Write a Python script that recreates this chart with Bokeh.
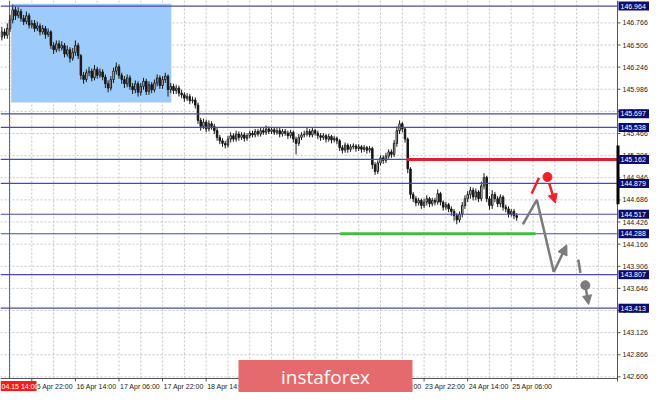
from bokeh.plotting import figure
from bokeh.models import Arrow, NormalHead, ColumnDataSource
from bokeh.core.properties import value
from bokeh.embed import file_html
from bokeh.resources import INLINE

# ---------------- data ----------------
first_open = 146.60
closes = [
    146.66, 146.62, 146.70, 146.80, 146.92, 146.85, 146.90, 146.82, 146.78, 146.85,
    146.74, 146.76, 146.70, 146.73, 146.66, 146.70, 146.63, 146.66, 146.50, 146.45,
    146.52, 146.47, 146.50, 146.40, 146.45, 146.35, 146.42, 146.50, 146.38, 146.15,
    146.10, 146.18, 146.20, 146.12, 146.22, 146.15, 146.19, 146.13, 146.05, 146.00,
    146.10, 146.20, 146.25, 146.15, 146.10, 146.05, 146.12, 146.02, 145.98, 146.05,
    145.95, 146.02, 146.08, 145.96, 146.04, 145.98, 146.06, 146.12, 146.03, 146.10,
    146.14, 145.98, 146.02, 145.97, 146.00, 145.94, 145.92, 145.88, 145.90, 145.85,
    145.86, 145.80, 145.62, 145.55, 145.60, 145.52, 145.58, 145.55, 145.50, 145.42,
    145.38, 145.35, 145.33, 145.40, 145.44, 145.40, 145.46, 145.42, 145.45, 145.41,
    145.44, 145.47, 145.45, 145.49, 145.46, 145.50, 145.48, 145.52, 145.49, 145.51,
    145.48, 145.50, 145.46, 145.49, 145.47, 145.44, 145.48, 145.40, 145.35, 145.42,
    145.45, 145.46, 145.49, 145.45, 145.50, 145.47, 145.44, 145.42, 145.44, 145.40,
    145.43, 145.39, 145.41, 145.38, 145.30, 145.27, 145.33, 145.28, 145.31, 145.32,
    145.29, 145.31, 145.28, 145.30, 145.27, 145.29, 145.10, 145.02, 145.12, 145.18,
    145.15, 145.20, 145.25, 145.22, 145.35, 145.50, 145.58, 145.52, 145.40, 145.05,
    144.75, 144.70, 144.65, 144.68, 144.62, 144.66, 144.70, 144.64, 144.68, 144.66,
    144.76, 144.66, 144.60, 144.63, 144.58, 144.55, 144.50, 144.45, 144.52, 144.62,
    144.70, 144.75, 144.80, 144.72, 144.78, 144.70, 144.85, 144.95, 144.70, 144.62,
    144.75, 144.70, 144.64, 144.72, 144.60, 144.58, 144.52, 144.55, 144.50, 144.48,
]
highs = [
    146.72, 146.70, 146.76, 146.86, 146.98, 146.96, 146.95, 146.93, 146.86, 146.90,
    146.88, 146.80, 146.80, 146.78, 146.76, 146.74, 146.73, 146.70, 146.68, 146.54,
    146.56, 146.56, 146.55, 146.53, 146.50, 146.48, 146.47, 146.56, 146.53, 146.40,
    146.19, 146.22, 146.25, 146.23, 146.27, 146.25, 146.23, 146.22, 146.16, 146.09,
    146.14, 146.24, 146.30, 146.28, 146.18, 146.14, 146.16, 146.15, 146.06, 146.09,
    146.08, 146.06, 146.12, 146.11, 146.08, 146.07, 146.10, 146.16, 146.15, 146.14,
    146.18, 146.16, 146.06, 146.05, 146.04, 146.03, 145.98, 145.95, 145.94, 145.93,
    145.90, 145.89, 145.83, 145.65, 145.64, 145.63, 145.62, 145.61, 145.58, 145.53,
    145.45, 145.41, 145.38, 145.44, 145.48, 145.47, 145.50, 145.49, 145.48, 145.48,
    145.47, 145.50, 145.50, 145.52, 145.52, 145.53, 145.53, 145.56, 145.55, 145.54,
    145.54, 145.53, 145.53, 145.52, 145.52, 145.50, 145.51, 145.50, 145.43, 145.46,
    145.48, 145.50, 145.54, 145.52, 145.53, 145.52, 145.50, 145.47, 145.47, 145.46,
    145.46, 145.45, 145.44, 145.43, 145.40, 145.33, 145.36, 145.35, 145.34, 145.35,
    145.34, 145.34, 145.33, 145.33, 145.32, 145.32, 145.31, 145.13, 145.15, 145.21,
    145.21, 145.24, 145.28, 145.28, 145.39, 145.55, 145.62, 145.60, 145.54, 145.42,
    145.07, 144.78, 144.73, 144.71, 144.70, 144.70, 144.74, 144.72, 144.71, 144.71,
    144.81, 144.78, 144.68, 144.66, 144.65, 144.61, 144.58, 144.53, 144.55, 144.66,
    144.74, 144.79, 144.84, 144.83, 144.82, 144.80, 144.90, 145.00, 144.97, 144.73,
    144.80, 144.78, 144.73, 144.75, 144.74, 144.63, 144.61, 144.58, 144.58, 144.53,
]
lows = [
    146.56, 146.58, 146.58, 146.66, 146.76, 146.80, 146.82, 146.78, 146.74, 146.75,
    146.70, 146.70, 146.66, 146.67, 146.62, 146.63, 146.58, 146.60, 146.46, 146.40,
    146.42, 146.43, 146.44, 146.36, 146.37, 146.30, 146.32, 146.38, 146.34, 146.10,
    146.05, 146.07, 146.14, 146.08, 146.09, 146.11, 146.12, 146.09, 146.00, 145.95,
    145.97, 146.06, 146.16, 146.11, 146.05, 146.00, 146.01, 145.98, 145.93, 145.94,
    145.90, 145.91, 145.98, 145.92, 145.92, 145.94, 145.95, 146.02, 145.99, 145.99,
    146.06, 145.90, 145.94, 145.93, 145.93, 145.90, 145.88, 145.84, 145.85, 145.81,
    145.82, 145.76, 145.58, 145.50, 145.52, 145.48, 145.49, 145.51, 145.46, 145.38,
    145.34, 145.31, 145.29, 145.30, 145.36, 145.37, 145.37, 145.38, 145.39, 145.37,
    145.38, 145.41, 145.42, 145.42, 145.43, 145.43, 145.45, 145.45, 145.46, 145.46,
    145.45, 145.45, 145.42, 145.43, 145.44, 145.40, 145.41, 145.36, 145.22, 145.32,
    145.39, 145.42, 145.43, 145.42, 145.42, 145.44, 145.40, 145.38, 145.39, 145.36,
    145.37, 145.35, 145.36, 145.34, 145.26, 145.23, 145.24, 145.24, 145.25, 145.28,
    145.25, 145.26, 145.24, 145.25, 145.23, 145.24, 145.05, 144.98, 144.99, 145.09,
    145.11, 145.12, 145.17, 145.18, 145.19, 145.31, 145.46, 145.48, 145.36, 145.00,
    144.70, 144.66, 144.61, 144.62, 144.58, 144.59, 144.62, 144.60, 144.61, 144.62,
    144.63, 144.62, 144.56, 144.57, 144.54, 144.50, 144.44, 144.40, 144.42, 144.48,
    144.58, 144.66, 144.70, 144.68, 144.68, 144.66, 144.67, 144.81, 144.66, 144.57,
    144.58, 144.66, 144.60, 144.60, 144.56, 144.54, 144.48, 144.49, 144.46, 144.44,
]

price_ticks = [146.766, 146.506, 146.246, 145.986, 145.726, 145.466, 145.206, 144.946,
               144.686, 144.426, 144.166, 143.906, 143.646, 143.386, 143.126, 142.866, 142.606]
levels = [146.964, 145.697, 145.538, 145.162, 144.879, 144.517, 144.288, 143.807, 143.413]
time_ticks = [11, 27, 43, 59, 75, 91, 107, 123, 139, 155, 171, 187]
time_labels = ["15 Apr 22:00", "16 Apr 14:00", "17 Apr 06:00", "17 Apr 22:00",
               "18 Apr 14:00", "19 Apr 06:00", "19 Apr 22:00", "22 Apr 14:00",
               "23 Apr 06:00", "23 Apr 22:00", "24 Apr 14:00", "25 Apr 06:00"]

resistance_level = 145.162
resistance_start = 148.6
support_level = 144.288
support_span = [124.2, 195.9]
zone_x = [3.44, 62.2]
zone_y = [145.831, 146.992]
marker_bar = 2.8
marker_label = "04.15 14:00"
price_marker = [145.326, 144.636]

red_slash_x = [194.5, 197.2]
red_slash_y = [144.761, 144.946]
red_dot_x = [200.3]
red_dot_y = [144.955]
red_arrow_x = [200.9, 203.2]
red_arrow_y = [144.882, 144.648]
gray_path_x = [191.25, 196.4, 202.6]
gray_path_y = [144.399, 144.686, 143.838]
gray_arrow_x = [202.6, 207.4]
gray_arrow_y = [143.838, 144.158]
gray_dash_x = [211.6, 212.4]
gray_dash_y = [143.985, 143.827]
gray_dot_x = [214.2]
gray_dot_y = [143.683]
gray_arrow2_x = [214.4, 215.4]
gray_arrow2_y = [143.638, 143.457]

logo_text = "instaforex"

# ---------------- geometry / styling ----------------
W, H = 649, 392            # canvas
CW, CH = 617, 378          # chart area (price axis strip on the right, time strip below)
X0, XR = -0.5, 226.0       # bar range of the chart area
YB, YT = 142.587, 147.029  # price range of the chart area
bx = (XR - X0) / CW
uy = (YT - YB) / CH
X_END = X0 + W * bx
Y_START = YT - H * uy


def dx(px):
    return px * bx


def dy(px):
    return px * uy


AX_FONT = value("Liberation Sans")
AX_SIZE = "7px"
AX_COLOR = "#555555"
LEVEL_COLOR = "#4a4aa8"
LABEL_BG = "#0c0c6e"
RED = "#f0202a"
GRAY = "#7b7b7b"

p = figure(width=W, height=H, x_range=(X0, X_END), y_range=(Y_START, YT),
           output_backend="svg", toolbar_location=None,
           x_axis_location=None, y_axis_location=None)
p.min_border_left = p.min_border_right = p.min_border_top = p.min_border_bottom = 0
p.outline_line_color = None
p.background_fill_color = "white"
p.border_fill_color = "white"
p.grid.visible = False

# dotted grid inside the chart area
grid_bars = list(range(3, int(XR) + 1, 8))
p.segment(x0=grid_bars, y0=[YB] * len(grid_bars), x1=grid_bars, y1=[YT] * len(grid_bars),
          line_color="#c4c4c4", line_dash="2 2", line_width=1)
p.segment(x0=[X0] * len(price_ticks), y0=price_ticks, x1=[XR] * len(price_ticks), y1=price_ticks,
          line_color="#c4c4c4", line_dash="2 2", line_width=1)

# highlighted zone
p.quad(left=[zone_x[0]], right=[zone_x[1]], bottom=[zone_y[0]], top=[zone_y[1]],
       fill_color="#9dccfb", line_color=None)

# red time marker
p.segment(x0=[marker_bar], y0=[YB], x1=[marker_bar], y1=[YT], line_color="#ff2a2a", line_width=1)

# candles
opens = [first_open] + closes[:-1]
idx = list(range(len(closes)))
src = ColumnDataSource(dict(
    x=idx, h=highs, l=lows,
    top=[max(a, b) for a, b in zip(opens, closes)],
    bot=[min(a, b) for a, b in zip(opens, closes)],
    fill=["#111111" if c < o else "#ffffff" for o, c in zip(opens, closes)],
))
p.segment(x0="x", y0="l", x1="x", y1="h", source=src, line_color="#1a1a1a", line_width=1)
p.vbar(x="x", width=0.55, top="top", bottom="bot", source=src,
       fill_color="fill", line_color="#1a1a1a", line_width=1)

# horizontal levels
p.segment(x0=[X0] * len(levels), y0=levels, x1=[XR] * len(levels), y1=levels,
          line_color=LEVEL_COLOR, line_width=1.2)
p.segment(x0=[resistance_start], y0=[resistance_level], x1=[XR], y1=[resistance_level],
          line_color="#e0202a", line_width=3)
p.segment(x0=[support_span[0]], y0=[support_level], x1=[support_span[1]], y1=[support_level],
          line_color="#3cbf3c", line_width=3)

# forecast drawings
p.line(red_slash_x, red_slash_y, line_color=RED, line_width=2.5)
p.scatter(red_dot_x, red_dot_y, size=9, color=RED)
p.add_layout(Arrow(x_start=red_arrow_x[0], y_start=red_arrow_y[0], x_end=red_arrow_x[1], y_end=red_arrow_y[1],
                   line_color=RED, line_width=2.5,
                   end=NormalHead(size=9, fill_color=RED, line_color=RED)))
p.line(gray_path_x, gray_path_y, line_color=GRAY, line_width=2.5)
p.add_layout(Arrow(x_start=gray_arrow_x[0], y_start=gray_arrow_y[0], x_end=gray_arrow_x[1], y_end=gray_arrow_y[1],
                   line_color=GRAY, line_width=2.5,
                   end=NormalHead(size=10, fill_color=GRAY, line_color=GRAY)))
p.line(gray_dash_x, gray_dash_y, line_color=GRAY, line_width=2.5)
p.scatter(gray_dot_x, gray_dot_y, size=9, color=GRAY)
p.add_layout(Arrow(x_start=gray_arrow2_x[0], y_start=gray_arrow2_y[0], x_end=gray_arrow2_x[1], y_end=gray_arrow2_y[1],
                   line_color=GRAY, line_width=2.5,
                   end=NormalHead(size=9, fill_color=GRAY, line_color=GRAY)))

# ---- price axis (right) ----
p.segment(x0=[XR], y0=[YB - dy(3)], x1=[XR], y1=[YT], line_color=AX_COLOR, line_width=1)
p.segment(x0=[XR] * len(price_ticks), y0=price_ticks, x1=[XR + dx(3)] * len(price_ticks), y1=price_ticks,
          line_color=AX_COLOR, line_width=1)
p.text(x=[XR + dx(5)] * len(price_ticks), y=price_ticks, text=[f"{t:.3f}" for t in price_ticks],
       text_font=AX_FONT, text_font_size=AX_SIZE, text_color="#222222",
       text_align="left", text_baseline="middle")
p.segment(x0=[XR + dx(0.5)], y0=[price_marker[0]], x1=[XR + dx(0.5)], y1=[price_marker[1]],
          line_color="#000000", line_width=3)

# ---- time axis (below) ----
p.segment(x0=[X0], y0=[YB], x1=[XR], y1=[YB], line_color=AX_COLOR, line_width=1)
p.segment(x0=time_ticks, y0=[YB] * len(time_ticks), x1=time_ticks, y1=[YB - dy(3)] * len(time_ticks),
          line_color=AX_COLOR, line_width=1)
p.text(x=[t + dx(1) for t in time_ticks], y=[YB - dy(7.5)] * len(time_ticks), text=time_labels,
       text_font=AX_FONT, text_font_size=AX_SIZE, text_color="#222222",
       text_align="left", text_baseline="middle")

# highlighted level labels on the price axis
p.rect(x=[XR + dx(16.5)] * len(levels), y=levels, width=31, height=9,
       width_units="screen", height_units="screen", fill_color=LABEL_BG, line_color=None)
p.text(x=[XR + dx(3)] * len(levels), y=levels, text=[f"{lv:.3f}" for lv in levels],
       text_font=AX_FONT, text_font_size=AX_SIZE, text_color="white",
       text_align="left", text_baseline="middle")

# red time label
p.rect(x=[X0 + dx(18)], y=[YB - dy(7.5)], width=36, height=10,
       width_units="screen", height_units="screen", fill_color="#ff1a1a", line_color=None)
p.text(x=[X0 + dx(1)], y=[YB - dy(7.5)], text=[marker_label],
       text_font=AX_FONT, text_font_size=AX_SIZE, text_color="white",
       text_align="left", text_baseline="middle")

# watermark
p.rect(x=[X0 + dx(325)], y=[YT - dy(376)], width=174, height=33,
       width_units="screen", height_units="screen", fill_color="#e46a6e", line_color=None)
p.text(x=[X0 + dx(325)], y=[YT - dy(376)], text=[logo_text],
       text_font=value("Open Sans"), text_font_size="19px", text_color="white",
       text_align="center", text_baseline="middle")

open("out.html", "w").write(file_html(p, INLINE))
